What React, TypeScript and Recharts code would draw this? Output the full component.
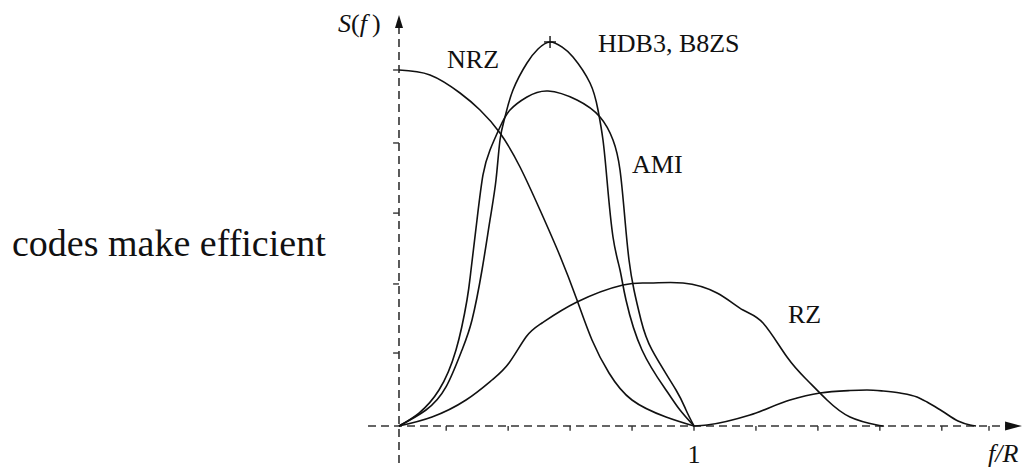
import React from 'react';
import { LineChart, Line, XAxis, YAxis, ReferenceLine, ReferenceDot } from 'recharts';

// ---- data (f/R, S(f)) ----
const nrzF = [0, 0.1051, 0.2068, 0.2746, 0.3424, 0.4102, 0.478, 0.5458, 0.6034, 0.6542, 0.7119, 0.7898, 0.9051, 1.0];
const nrzS = [1.0, 0.986, 0.9354, 0.8876, 0.823, 0.7275, 0.6067, 0.4775, 0.3539, 0.2416, 0.1489, 0.073, 0.0253, 0];

const hdbF = [0, 0.0915, 0.1593, 0.2136, 0.2475, 0.2814, 0.3085, 0.3288, 0.3424, 0.3593, 0.3864, 0.4339, 0.4712, 0.5119, 0.5525, 0.5898, 0.6475, 0.6746, 0.6915, 0.7051, 0.7254, 0.7492, 0.7695, 0.8237, 0.9051, 0.9525, 1.0];
const hdbS = [0, 0.0449, 0.1096, 0.2135, 0.2978, 0.4382, 0.5787, 0.691, 0.8034, 0.868, 0.9438, 1.0197, 1.059, 1.0787, 1.0646, 1.0365, 0.9635, 0.8876, 0.8034, 0.691, 0.5309, 0.4382, 0.3539, 0.2135, 0.1011, 0.0449, 0];

const amiF = [0, 0.0678, 0.1356, 0.1932, 0.2305, 0.2441, 0.2644, 0.2847, 0.3085, 0.3424, 0.3763, 0.4339, 0.5051, 0.6034, 0.6814, 0.7254, 0.7492, 0.7661, 0.7797, 0.7966, 0.8203, 0.8576, 0.939, 0.9729, 1.0];
const amiS = [0, 0.0365, 0.1011, 0.2135, 0.3539, 0.4382, 0.5787, 0.7051, 0.7753, 0.8399, 0.8876, 0.9242, 0.941, 0.9157, 0.868, 0.8034, 0.7191, 0.5787, 0.4663, 0.382, 0.2978, 0.2135, 0.1011, 0.0449, 0];

// second spectral lobe between f/R = 1 and 2
const lobeF = [1.0, 1.0441, 1.1898, 1.3254, 1.4271, 1.5288, 1.5864, 1.6407, 1.6983, 1.7559, 1.7898, 1.8407, 1.8949, 1.9356, 1.9559];
const lobeS = [0, 0.0028, 0.0309, 0.073, 0.0927, 0.0997, 0.1011, 0.0983, 0.0927, 0.0815, 0.0674, 0.0421, 0.014, 0.0028, 0];

const rzF = [0, 0.1119, 0.2271, 0.3153, 0.3729, 0.4305, 0.4847, 0.6034, 0.7593, 0.8508, 0.9627, 1.078, 1.1661, 1.2339, 1.3153, 1.3831, 1.4508, 1.5288, 1.6203, 1.6441];
const rzS = [0, 0.0253, 0.073, 0.1292, 0.177, 0.25, 0.2893, 0.3483, 0.3961, 0.4017, 0.4017, 0.3736, 0.3258, 0.2893, 0.1938, 0.1292, 0.073, 0.0253, 0.0028, 0];

const xTicks = [0.16, 0.37, 0.58, 0.79, 1.0, 1.21, 1.42, 1.63, 1.84, 2.0];
const yTicks = [0.205, 0.399, 0.598, 0.795, 1.0];

const hdbPeak = { f: 0.512, s: 1.0787 };

const labels = [
  { text: 'NRZ', f: 0.163, s: 1.0056 },
  { text: 'HDB3, B8ZS', f: 0.6746, s: 1.0506 },
  { text: 'AMI', f: 0.79, s: 0.7107 },
  { text: 'RZ', f: 1.3186, s: 0.2893 },
];

const toPoints = (fs: number[], ss: number[]) => fs.map((f, i) => ({ f, s: ss[i] }));

const series = [
  { name: 'NRZ', data: toPoints(nrzF, nrzS), curve: 'natural' },
  { name: 'HDB3, B8ZS', data: toPoints(hdbF, hdbS), curve: 'natural' },
  { name: 'AMI', data: toPoints(amiF, amiS), curve: 'natural' },
  { name: 'AMI lobe 2', data: toPoints(lobeF, lobeS), curve: 'monotone' },
  { name: 'RZ', data: toPoints(rzF, rzS), curve: 'natural' },
];

const W = 1036;
const H = 471;
const X_DOMAIN: [number, number] = [-1.3525, 2.1593];
const Y_DOMAIN: [number, number] = [-0.1264, 1.1966];

const AXIS_COLOR = '#333';
const INK = '#111';
const FONT = 'Liberation Serif, Times New Roman, serif';

export default function App() {
  return (
    <div style={{ position: 'absolute', left: 0, top: 0, width: W, height: H, background: '#fff', overflow: 'hidden' }}>
      <div
        style={{
          position: 'absolute',
          left: 12,
          top: 224,
          fontFamily: FONT,
          fontSize: 38,
          lineHeight: '38px',
          color: '#111',
          whiteSpace: 'nowrap',
        }}
      >
        codes make efficient
      </div>
      <div style={{ position: 'absolute', left: 0, top: 0 }}>
        <LineChart width={W} height={H} margin={{ top: 0, right: 0, bottom: 0, left: 0 }}>
          <XAxis type="number" dataKey="f" domain={X_DOMAIN} allowDataOverflow hide />
          <YAxis type="number" dataKey="s" domain={Y_DOMAIN} allowDataOverflow hide />

          {/* dashed axes */}
          <ReferenceLine
            segment={[{ x: 0, y: -0.104 }, { x: 0, y: 1.12 }]}
            stroke={AXIS_COLOR}
            strokeWidth={1.6}
            strokeDasharray="8 5"
            ifOverflow="visible"
          />
          <ReferenceLine
            segment={[{ x: -0.105, y: 0 }, { x: 2.06, y: 0 }]}
            stroke={AXIS_COLOR}
            strokeWidth={1.6}
            strokeDasharray="8 5"
            ifOverflow="visible"
          />
          {xTicks.map((t) => (
            <ReferenceLine
              key={'xt' + t}
              segment={[{ x: t, y: 0 }, { x: t, y: -0.013 }]}
              stroke={AXIS_COLOR}
              strokeWidth={1.4}
              ifOverflow="visible"
            />
          ))}
          {yTicks.map((t) => (
            <ReferenceLine
              key={'yt' + t}
              segment={[{ x: -0.02, y: t }, { x: 0, y: t }]}
              stroke={AXIS_COLOR}
              strokeWidth={1.4}
              ifOverflow="visible"
            />
          ))}

          {/* arrow heads */}
          <ReferenceDot
            x={0}
            y={1.1545}
            r={0}
            shape={(p: any) => (
              <polygon points={`${p.cx},${p.cy} ${p.cx - 4},${p.cy + 13} ${p.cx + 4},${p.cy + 13}`} fill={INK} />
            )}
          />
          <ReferenceDot
            x={2.112}
            y={0}
            r={0}
            shape={(p: any) => (
              <polygon points={`${p.cx},${p.cy} ${p.cx - 17},${p.cy - 4.5} ${p.cx - 17},${p.cy + 4.5}`} fill={INK} />
            )}
          />

          {series.map((sr) => (
            <Line
              key={sr.name}
              name={sr.name}
              data={sr.data}
              dataKey="s"
              type={sr.curve as any}
              stroke={INK}
              strokeWidth={1.6}
              dot={false}
              activeDot={false}
              isAnimationActive={false}
            />
          ))}

          {/* peak marker */}
          <ReferenceDot
            x={hdbPeak.f}
            y={hdbPeak.s}
            r={0}
            shape={(p: any) => (
              <g stroke={INK} strokeWidth={1.4}>
                <line x1={p.cx - 6} y1={p.cy} x2={p.cx + 6} y2={p.cy} />
                <line x1={p.cx} y1={p.cy - 6} x2={p.cx} y2={p.cy + 6} />
              </g>
            )}
          />

          {/* labels */}
          {labels.map((l) => (
            <ReferenceDot
              key={l.text}
              x={l.f}
              y={l.s}
              r={0}
              shape={(p: any) => (
                <text x={p.cx} y={p.cy} fontFamily={FONT} fontSize={26} fill={INK}>
                  {l.text}
                </text>
              )}
            />
          ))}
          <ReferenceDot
            x={1.0}
            y={-0.104}
            r={0}
            shape={(p: any) => (
              <text x={p.cx} y={p.cy} fontFamily={FONT} fontSize={26} fill={INK} textAnchor="middle">
                1
              </text>
            )}
          />
          <ReferenceDot
            x={1.9966}
            y={-0.101}
            r={0}
            shape={(p: any) => (
              <text x={p.cx} y={p.cy} fontFamily={FONT} fontSize={26} fill={INK} fontStyle="italic">
                f/R
              </text>
            )}
          />
          <ReferenceDot
            x={-0.2068}
            y={1.1067}
            r={0}
            shape={(p: any) => (
              <text x={p.cx} y={p.cy} fontFamily={FONT} fontSize={26} fill={INK}>
                <tspan fontStyle="italic">S</tspan>(<tspan fontStyle="italic">f</tspan>{'\u2009'})
              </text>
            )}
          />
        </LineChart>
      </div>
    </div>
  );
}
